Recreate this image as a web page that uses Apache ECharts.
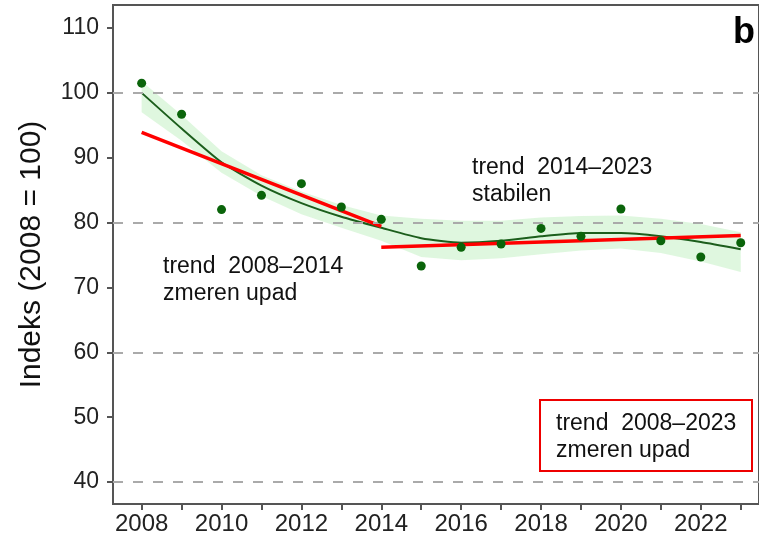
<!DOCTYPE html>
<html>
<head>
<meta charset="utf-8">
<script src="https://cdn.jsdelivr.net/npm/echarts@6/dist/echarts.min.js"></script>
<style>
  html, body { margin: 0; padding: 0; background: #fff; }
  #chart { width: 759px; height: 540px; }
</style>
</head>
<body>
<div id="chart"></div>
<script>
// leta in indeksi (2008 = 100)
var years = [2008, 2009, 2010, 2011, 2012, 2013, 2014, 2015, 2016, 2017, 2018, 2019, 2020, 2021, 2022, 2023];
var indexValues = [101.5, 96.7, 82.0, 84.2, 86.0, 82.4, 80.5, 73.3, 76.2, 76.7, 79.1, 77.9, 82.1, 77.2, 74.7, 76.9];
// zglajena krivulja in interval zaupanja
var smoothValues = [100.0, 94.5, 89.3, 85.7, 83.0, 80.9, 79.2, 77.6, 76.9, 77.2, 77.9, 78.4, 78.4, 77.9, 77.0, 75.9];
var bandLower = [97.0, 92.6, 87.7, 84.1, 81.3, 79.2, 77.2, 74.7, 74.2, 74.5, 75.1, 75.7, 76.0, 75.3, 74.0, 72.4];
var bandUpper = [101.8, 96.6, 91.0, 87.3, 84.8, 82.7, 81.1, 80.6, 80.3, 80.3, 80.8, 81.0, 81.1, 80.6, 79.8, 78.5];
// linearna trenda
var trendEarlyYears = [2008, 2014];
var trendEarlyValues = [93.9, 79.4];
var trendLateYears = [2014, 2023];
var trendLateValues = [76.2, 78.0];
// osi
var xTickYears = [2008, 2009, 2010, 2011, 2012, 2013, 2014, 2015, 2016, 2017, 2018, 2019, 2020, 2021, 2022, 2023];
var xLabelYears = [2008, 2010, 2012, 2014, 2016, 2018, 2020, 2022];
var yTickValues = [40, 50, 60, 70, 80, 90, 100, 110];
var gridLevels = [40, 60, 80, 100];

function pairs(xs, ys) {
  return xs.map(function (x, i) { return [x, ys[i]]; });
}

var myChart = echarts.init(document.getElementById('chart'));

var textFont = '23px "Liberation Sans", Arial, sans-serif';

// pas zaupanja kot en poligon
function renderBand(params, api) {
  if (params.dataIndex !== 0) return;
  var top = [], bottom = [];
  for (var i = 0; i < years.length; i++) {
    top.push(api.coord([years[i], bandUpper[i]]));
    bottom.unshift(api.coord([years[i], bandLower[i]]));
  }
  return {
    type: 'polygon',
    shape: { points: top.concat(bottom) },
    style: { fill: 'rgba(150,230,150,0.3)' }
  };
}

myChart.setOption({
  animation: false,
  grid: {
    left: 113,
    top: 5,
    right: -2,
    bottom: 36,
    show: true,
    borderColor: '#555',
    borderWidth: 2
  },
  xAxis: {
    type: 'value',
    min: 2007.2825,
    max: 2023.4575,
    splitLine: { show: false },
    axisLine: { show: false },
    axisTick: {
      show: true,
      length: 6,
      lineStyle: { color: '#555', width: 2 },
      customValues: xTickYears
    },
    axisLabel: {
      color: '#222',
      fontSize: 24,
      fontFamily: 'Liberation Sans',
      margin: 8,
      customValues: xLabelYears,
      formatter: function (v) { return String(v); }
    }
  },
  yAxis: {
    type: 'value',
    min: 36.61,
    max: 113.55,
    name: 'Indeks (2008 = 100)',
    nameLocation: 'middle',
    nameGap: 66,
    nameTextStyle: { fontSize: 30, color: '#111', fontFamily: 'Liberation Sans' },
    splitLine: { show: false },
    axisLine: { show: false },
    axisTick: {
      show: true,
      length: 6,
      lineStyle: { color: '#555', width: 2 },
      customValues: yTickValues
    },
    axisLabel: {
      color: '#222',
      fontSize: 23,
      fontFamily: 'Liberation Sans',
      margin: 14,
      customValues: yTickValues
    }
  },
  series: [
    {
      name: 'ci',
      type: 'custom',
      renderItem: renderBand,
      data: pairs(years, bandLower),
      z: 2,
      silent: true,
      markLine: {
        silent: true,
        symbol: 'none',
        label: { show: false },
        lineStyle: { type: [10, 10], color: '#aaa', width: 2 },
        data: gridLevels.map(function (v) { return { yAxis: v }; })
      }
    },
    {
      name: 'smooth',
      type: 'line',
      smooth: 0.2,
      symbol: 'none',
      data: pairs(years, smoothValues),
      lineStyle: { color: '#1c5e1c', width: 2 },
      z: 3
    },
    {
      name: 'trend2008',
      type: 'line',
      symbol: 'none',
      data: pairs(trendEarlyYears, trendEarlyValues),
      lineStyle: { color: '#f00', width: 3.5 },
      z: 4
    },
    {
      name: 'trend2014',
      type: 'line',
      symbol: 'none',
      data: pairs(trendLateYears, trendLateValues),
      lineStyle: { color: '#f00', width: 3.5 },
      z: 4
    },
    {
      name: 'index',
      type: 'scatter',
      symbol: 'circle',
      symbolSize: 9,
      data: pairs(years, indexValues),
      itemStyle: { color: '#0a640a', opacity: 1 },
      z: 5
    }
  ],
  graphic: [
    {
      type: 'text',
      left: 163,
      top: 253,
      style: { text: 'trend  2008–2014\nzmeren upad', font: textFont, fill: '#111', lineHeight: 27 }
    },
    {
      type: 'text',
      left: 472,
      top: 154,
      style: { text: 'trend  2014–2023\nstabilen', font: textFont, fill: '#111', lineHeight: 27 }
    },
    {
      type: 'rect',
      shape: { x: 540, y: 400, width: 212, height: 71 },
      style: { fill: '#fff', stroke: '#e00', lineWidth: 2 }
    },
    {
      type: 'text',
      left: 556,
      top: 410,
      style: { text: 'trend  2008–2023\nzmeren upad', font: textFont, fill: '#111', lineHeight: 27 }
    },
    {
      type: 'text',
      left: 733,
      top: 15,
      style: { text: 'b', font: 'bold 36px "Liberation Sans", Arial, sans-serif', fill: '#000' }
    }
  ]
});
</script>
</body>
</html>
